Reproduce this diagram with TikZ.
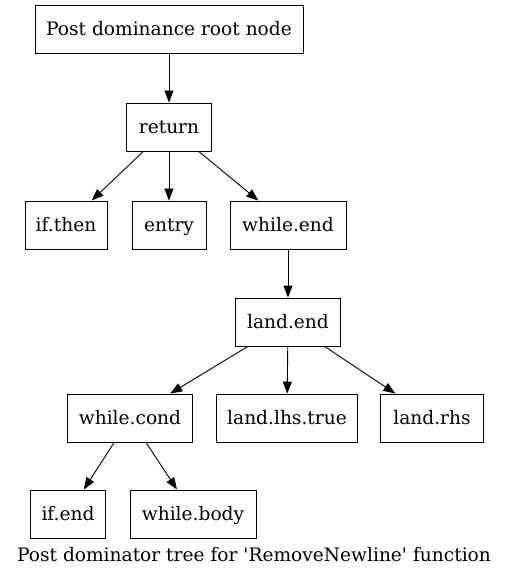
\documentclass[tikz,border=0pt]{standalone}
\usepackage{fontspec}
\setmainfont{DejaVu Serif}
\usepackage{tikz}
\usetikzlibrary{arrows.meta}
\tikzstyle{block} = [rectangle, minimum height=48pt, inner xsep=0pt, text height=14pt, text depth=1pt, text centered, draw=black, line width=0.9pt, font=\fontsize{18.6}{22}\selectfont]
\tikzstyle{arrow} = [line width=0.9pt, -{Triangle[length=12pt,width=9pt]}]

\begin{document}
\begin{tikzpicture}[x=1pt, y=-1pt]
\useasboundingbox (0,0) rectangle (509,577);
\node (root) [block, minimum width=268pt] at (169,29) {Post dominance root node};
\node (ret) [block, minimum width=85pt] at (169,127) {return};
\node (ifthen) [block, minimum width=82pt] at (66,225) {if.then};
\node (entry) [block, minimum width=74pt] at (169,225) {entry};
\node (whileend) [block, minimum width=116pt] at (288,225) {while.end};
\node (landend) [block, minimum width=105pt] at (288,322) {land.end};
\node (whilecond) [block, minimum width=125pt] at (130,418) {while.cond};
\node (lhstrue) [block, minimum width=141pt] at (287,418) {land.lhs.true};
\node (landrhs) [block, minimum width=103pt] at (432,418) {land.rhs};
\node (ifend) [block, minimum width=75pt] at (68,514) {if.end};
\node (whilebody) [block, minimum width=126pt] at (193,514) {while.body};
\node (caption) [font=\fontsize{18.6}{22}\selectfont] at (254,555) {Post dominator tree for \textquotesingle RemoveNewline\textquotesingle{} function};
\draw [arrow] (root) -- (ret);
\draw [arrow] (ret) -- (ifthen);
\draw [arrow] (ret) -- (entry);
\draw [arrow] (ret) -- (whileend);
\draw [arrow] (whileend) -- (landend);
\draw [arrow] (landend) -- (whilecond);
\draw [arrow] (landend) -- (lhstrue);
\draw [arrow] (landend) -- (landrhs);
\draw [arrow] (whilecond) -- (ifend);
\draw [arrow] (whilecond) -- (whilebody);
\end{tikzpicture}
\end{document}
